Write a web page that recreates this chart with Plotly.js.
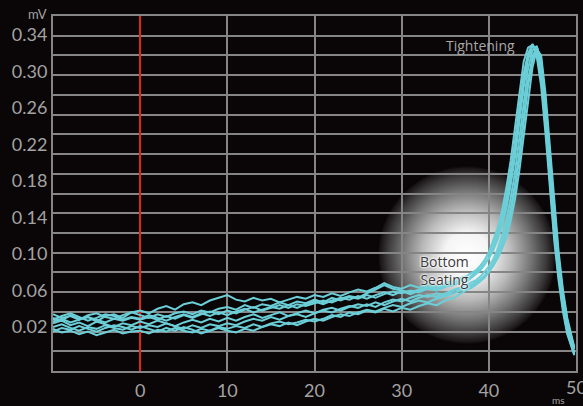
<!DOCTYPE html>
<html>
<head>
<meta charset="utf-8">
<script src="https://cdn.plot.ly/plotly-3.0.1.min.js"></script>
<style>
html,body{margin:0;padding:0;background:#0a0506;}
#chart{width:583px;height:406px;}
</style>
</head>
<body>
<div id="chart"></div>
<script>
// time axis (ms)
const ms = [-10,-9,-8,-7,-6,-5,-4,-3,-2,-1,0,1,2,3,4,5,6,7,8,9,10,11,12,13,14,15,16,17,18,19,20,21,22,23,24,25,26,27,28,29,30,31,32,33,34,35,36,37,
  37.5,38,38.5,39,39.5,40,40.5,41,41.5,42,42.5,43,43.5,44,44.5,45,45.5,46,46.5,47,47.5,48,48.5,49,49.5,49.8];

// signal traces (mV)
const tr1 = [0.030,0.027,0.033,0.029,0.031,0.026,0.032,0.034,0.030,0.036,
  0.038,0.035,0.040,0.043,0.039,0.045,0.047,0.044,0.049,0.052,
  0.055,0.050,0.048,0.052,0.049,0.051,0.047,0.050,0.053,0.051,
  0.055,0.053,0.057,0.054,0.058,0.061,0.059,0.063,0.068,0.064,
  0.062,0.066,0.063,0.067,0.064,0.068,0.071,0.074,
  0.076,0.079,0.082,0.087,0.093,0.101,0.111,0.124,0.141,0.163,0.190,0.224,0.263,0.298,0.320,0.329,0.320,0.290,0.240,0.180,0.121,0.076,0.041,0.015,0.000,-0.009];
const tr2 = [0.018,0.014,0.016,0.012,0.015,0.011,0.014,0.017,0.013,0.015,
  0.016,0.013,0.017,0.015,0.019,0.016,0.014,0.018,0.016,0.020,
  0.018,0.021,0.019,0.023,0.020,0.024,0.026,0.023,0.025,0.028,
  0.026,0.029,0.033,0.031,0.036,0.034,0.038,0.036,0.040,0.037,
  0.041,0.039,0.043,0.046,0.044,0.049,0.052,0.058,
  0.061,0.063,0.066,0.070,0.074,0.080,0.087,0.097,0.109,0.124,0.144,0.171,0.204,0.244,0.284,0.312,0.327,0.313,0.268,0.209,0.149,0.097,0.057,0.027,0.008,-0.003];
const tr3 = [0.034,0.030,0.032,0.028,0.033,0.035,0.031,0.029,0.033,0.036,
  0.033,0.030,0.034,0.031,0.035,0.037,0.034,0.038,0.036,0.040,
  0.042,0.039,0.044,0.041,0.045,0.043,0.047,0.044,0.048,0.046,
  0.050,0.047,0.052,0.049,0.053,0.051,0.055,0.052,0.056,0.059,
  0.057,0.060,0.058,0.062,0.060,0.064,0.066,0.070,
  0.072,0.076,0.080,0.086,0.093,0.102,0.114,0.128,0.147,0.172,0.202,0.240,0.279,0.311,0.326,0.329,0.316,0.284,0.232,0.172,0.115,0.071,0.037,0.012,-0.004,-0.011];
const tr4 = [0.024,0.027,0.022,0.025,0.021,0.026,0.023,0.020,0.024,0.022,
  0.026,0.023,0.027,0.024,0.021,0.025,0.028,0.025,0.029,0.026,
  0.030,0.027,0.031,0.034,0.030,0.033,0.036,0.032,0.035,0.038,
  0.035,0.039,0.041,0.038,0.042,0.045,0.043,0.047,0.044,0.048,
  0.051,0.048,0.052,0.055,0.053,0.057,0.061,0.064,
  0.066,0.069,0.071,0.075,0.080,0.086,0.094,0.105,0.119,0.137,0.161,0.190,0.227,0.268,0.303,0.323,0.328,0.303,0.254,0.194,0.134,0.086,0.048,0.020,0.003,-0.007];
const tr5 = [0.020,0.023,0.019,0.016,0.020,0.018,0.022,0.019,0.017,0.021,
  0.019,0.022,0.020,0.024,0.021,0.018,0.022,0.019,0.023,0.021,
  0.024,0.022,0.026,0.029,0.027,0.031,0.028,0.032,0.034,0.031,
  0.035,0.038,0.036,0.040,0.043,0.041,0.045,0.042,0.047,0.050,
  0.048,0.052,0.055,0.053,0.057,0.055,0.060,0.063,
  0.065,0.066,0.069,0.072,0.076,0.081,0.087,0.095,0.105,0.118,0.136,0.160,0.191,0.229,0.270,0.304,0.324,0.318,0.276,0.217,0.156,0.103,0.061,0.030,0.010,-0.002];
const tr6 = [0.028,0.032,0.035,0.031,0.027,0.030,0.034,0.032,0.028,0.031,
  0.029,0.033,0.030,0.027,0.031,0.034,0.031,0.035,0.032,0.036,
  0.033,0.037,0.040,0.036,0.039,0.042,0.040,0.044,0.041,0.045,
  0.048,0.045,0.049,0.052,0.050,0.054,0.051,0.055,0.058,0.055,
  0.059,0.056,0.060,0.063,0.061,0.065,0.068,0.072,
  0.070,0.074,0.077,0.082,0.088,0.096,0.106,0.119,0.135,0.156,0.182,0.215,0.254,0.292,0.318,0.330,0.322,0.294,0.243,0.184,0.124,0.078,0.042,0.014,-0.002,-0.010];
const tr7 = [0.015,0.019,0.017,0.021,0.018,0.015,0.019,0.022,0.020,0.017,
  0.021,0.018,0.015,0.019,0.016,0.020,0.017,0.013,0.016,0.019,
  0.016,0.014,0.018,0.016,0.020,0.023,0.021,0.025,0.022,0.026,
  0.029,0.027,0.031,0.034,0.032,0.036,0.039,0.037,0.041,0.044,
  0.042,0.046,0.049,0.047,0.051,0.054,0.057,0.061,
  0.063,0.065,0.068,0.071,0.076,0.082,0.090,0.100,0.112,0.128,0.150,0.177,0.211,0.251,0.290,0.316,0.327,0.310,0.264,0.205,0.145,0.094,0.055,0.025,0.006,-0.004];
const tr8 = [0.026,0.029,0.025,0.028,0.031,0.028,0.025,0.029,0.027,0.030,
  0.028,0.031,0.028,0.032,0.029,0.033,0.030,0.034,0.037,0.034,
  0.038,0.035,0.039,0.042,0.038,0.041,0.044,0.041,0.045,0.043,
  0.046,0.049,0.047,0.051,0.054,0.052,0.057,0.061,0.066,0.062,
  0.060,0.058,0.061,0.064,0.062,0.066,0.069,0.073,
  0.071,0.075,0.078,0.083,0.089,0.095,0.104,0.116,0.131,0.150,0.175,0.206,0.244,0.283,0.313,0.328,0.325,0.298,0.248,0.188,0.128,0.081,0.044,0.016,0.000,-0.009];

const traces = [tr1, tr2, tr3, tr4, tr5, tr6, tr7, tr8];
const xTickVals = [0, 10, 20, 30, 40];
const xLastTick = 50;
const yTickVals = [0.02, 0.06, 0.10, 0.14, 0.18, 0.22, 0.26, 0.30, 0.34];
const labelTightening = 'Tightening';
const labelSeating = 'Bottom<br>Seating';

// radial glow image (decoration)
function glow() {
  const c = document.createElement('canvas');
  c.width = 200; c.height = 200;
  const g = c.getContext('2d');
  const grad = g.createRadialGradient(100, 100, 0, 100, 100, 100);
  grad.addColorStop(0, 'rgba(255,255,255,1)');
  grad.addColorStop(0.25, 'rgba(245,245,245,1)');
  grad.addColorStop(0.5, 'rgba(185,185,185,1)');
  grad.addColorStop(0.72, 'rgba(115,115,115,1)');
  grad.addColorStop(0.88, 'rgba(60,58,58,1)');
  grad.addColorStop(0.97, 'rgba(25,20,22,1)');
  grad.addColorStop(1, 'rgba(10,5,6,0)');
  g.fillStyle = grad;
  g.fillRect(0, 0, 200, 200);
  return c.toDataURL('image/png');
}

const lineColor = '#6ccfd8';
const data = [{x: [0], y: [0], yaxis: 'y2', mode: 'markers', marker: {opacity: 0}, hoverinfo: 'skip'}]
  .concat(traces.map(t => ({
    x: ms, y: t, type: 'scatter', mode: 'lines',
    line: {color: lineColor, width: 2}, hoverinfo: 'skip'
  })));

const gridCol = '#858585';
const tickFont = {family: 'Lato, "Open Sans", sans-serif', size: 18, color: '#a3a3a3'};

const layout = {
  width: 583, height: 406,
  margin: {l: 53, r: 7, t: 16, b: 35},
  paper_bgcolor: '#0a0506',
  plot_bgcolor: 'rgba(0,0,0,0)',
  showlegend: false,
  xaxis: {
    range: [-10, 50], tickvals: xTickVals, ticks: '',
    showgrid: true, gridcolor: gridCol, gridwidth: 2,
    zeroline: true, zerolinecolor: '#e0231c', zerolinewidth: 2,
    showline: true, linecolor: gridCol, linewidth: 2, mirror: true,
    tickfont: tickFont, ticklabelstandoff: 2
  },
  yaxis: {
    range: [-0.0282, 0.3608], tickvals: yTickVals, tickformat: '.2f',
    ticks: '', showgrid: false, zeroline: false,
    showline: true, linecolor: gridCol, linewidth: 2, mirror: true,
    tickfont: tickFont
  },
  yaxis2: {
    overlaying: 'y', side: 'left', range: [0, 18], dtick: 1,
    showgrid: true, gridcolor: gridCol, gridwidth: 2,
    showticklabels: false, ticks: '', zeroline: false, showline: false
  },
  images: [{
    source: glow(), xref: 'paper', yref: 'paper',
    x: 0.6195, y: 0.5803, sizex: 0.3442, sizey: 0.507,
    xanchor: 'left', yanchor: 'top', sizing: 'stretch', layer: 'below'
  }],
  annotations: [
    {text: String(xLastTick), xref: 'x', yref: 'paper', x: xLastTick, y: -0.046, showarrow: false,
     xanchor: 'center', yanchor: 'middle', font: tickFont},
    {text: 'mV', xref: 'paper', yref: 'paper', x: -0.029, y: 1.006, showarrow: false,
     xanchor: 'center', yanchor: 'middle', font: {family: 'Lato, sans-serif', size: 13, color: '#a3a3a3'}},
    {text: 'ms', xref: 'paper', yref: 'paper', x: 0.9656, y: -0.0817, showarrow: false,
     xanchor: 'center', yanchor: 'middle', borderpad: 0, font: {family: 'Lato, sans-serif', size: 10, color: '#a3a3a3'}},
    {text: labelTightening, xref: 'x', yref: 'y', x: 39, y: 0.328, showarrow: false,
     xanchor: 'center', yanchor: 'middle', font: {family: '"Open Sans", sans-serif', size: 14, color: '#a8a8a8'}},
    {text: labelSeating, xref: 'x', yref: 'y', x: 34.9, y: 0.082, showarrow: false,
     xanchor: 'center', yanchor: 'middle', align: 'center',
     font: {family: '"Open Sans", sans-serif', size: 14, color: '#3a3a3a',
            shadow: '0 0 2px #fff, 0 0 2px #fff, 0 0 3px #fff'}}
  ]
};

Plotly.newPlot('chart', data, layout, {displayModeBar: false, staticPlot: true});
</script>
</body>
</html>
